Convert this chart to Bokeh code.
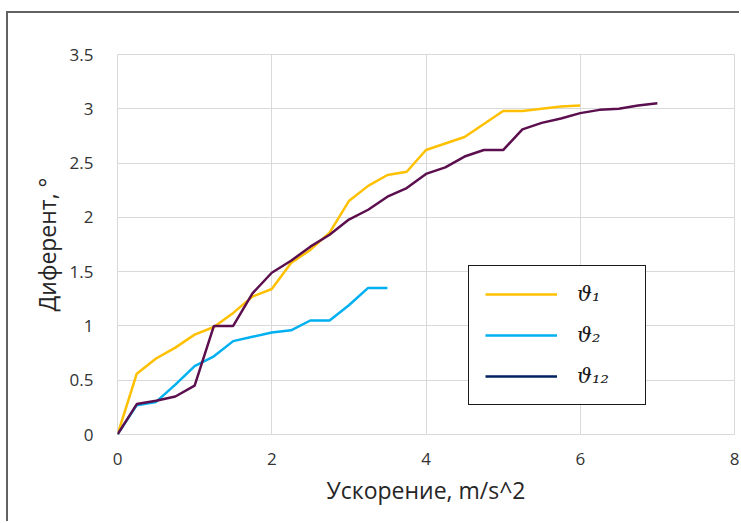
from bokeh.plotting import figure
from bokeh.models import FixedTicker, Legend, LegendItem, Range1d
from bokeh.embed import file_html
from bokeh.resources import INLINE

# ---- data ----
accel_1 = [0, 0.25, 0.5, 0.75, 1.0, 1.25, 1.5, 1.75, 2.0, 2.25, 2.5, 2.75, 3.0,
           3.25, 3.5, 3.75, 4.0, 4.25, 4.5, 4.75, 5.0, 5.25, 5.5, 5.75, 6.0]
theta_1 = [0, 0.56, 0.70, 0.80, 0.92, 0.99, 1.12, 1.27, 1.34, 1.58, 1.70, 1.86, 2.15,
           2.29, 2.39, 2.42, 2.62, 2.68, 2.74, 2.86, 2.98, 2.98, 3.00, 3.02, 3.03]

accel_2 = [0, 0.25, 0.5, 0.75, 1.0, 1.25, 1.5, 1.75, 2.0, 2.25, 2.5, 2.75, 3.0, 3.25, 3.5]
theta_2 = [0, 0.27, 0.30, 0.46, 0.63, 0.72, 0.86, 0.90, 0.94, 0.96, 1.05, 1.05, 1.19, 1.35, 1.35]

accel_12 = [0, 0.25, 0.5, 0.75, 1.0, 1.25, 1.5, 1.75, 2.0, 2.25, 2.5, 2.75, 3.0, 3.25,
            3.5, 3.75, 4.0, 4.25, 4.5, 4.75, 5.0, 5.25, 5.5, 5.75, 6.0, 6.25, 6.5, 6.75, 7.0]
theta_12 = [0, 0.28, 0.31, 0.35, 0.45, 1.00, 1.00, 1.30, 1.49, 1.60, 1.73, 1.84, 1.98, 2.07,
            2.19, 2.27, 2.40, 2.46, 2.56, 2.62, 2.62, 2.81, 2.87, 2.91, 2.96, 2.99, 3.00, 3.03, 3.05]

x_ticks = [0, 2, 4, 6, 8]
x_tick_labels = ["0", "2", "4", "6", "8"]
y_ticks = [0, 0.5, 1, 1.5, 2, 2.5, 3, 3.5]
y_tick_labels = ["0", "0.5", "1", "1.5", "2", "2.5", "3", "3.5"]

series_names = ["ϑ₁", "ϑ₂", "ϑ₁₂"]
line_colors = ["#FFC000", "#00B0F0", "#5C0F4E"]
legend_colors = ["#FFC000", "#00B0F0", "#002060"]

x_label = "Ускорение, m/s^2"
y_label = "Диферент, °"

FONT = "Open Sans"
GRID = "#d9d9d9"

p = figure(width=733, height=510, output_backend="svg", toolbar_location=None,
           x_range=Range1d(0, 8), y_range=Range1d(0, 3.5),
           min_border_left=109, min_border_right=7, min_border_top=41, min_border_bottom=89)
p.margin = (11, 0, 0, 6)
p.styles = {"border-left": "2px solid #626262", "border-top": "2px solid #626262"}

p.outline_line_color = GRID
p.background_fill_color = "white"
p.border_fill_color = "white"

for ax, ticks, labels in ((p.xaxis[0], x_ticks, x_tick_labels), (p.yaxis[0], y_ticks, y_tick_labels)):
    ax.ticker = FixedTicker(ticks=ticks)
    ax.major_label_overrides = {t: l for t, l in zip(ticks, labels)}
    ax.major_tick_line_color = None
    ax.minor_tick_line_color = None
    ax.axis_line_color = None
    ax.major_label_text_font = FONT
    ax.major_label_text_font_size = "17px"
    ax.major_label_text_color = "#333333"
    ax.axis_label_text_font = FONT
    ax.axis_label_text_font_style = "normal"
    ax.axis_label_text_font_size = "23px"
    ax.axis_label_text_color = "#262626"

p.xaxis.axis_label = x_label
p.yaxis.axis_label = y_label
p.xaxis.major_label_standoff = 12
p.yaxis.major_label_standoff = 18
p.xaxis.axis_label_standoff = 6
p.yaxis.axis_label_standoff = 4

p.xgrid.grid_line_color = GRID
p.ygrid.grid_line_color = GRID
p.xgrid.ticker = FixedTicker(ticks=x_ticks)
p.ygrid.ticker = FixedTicker(ticks=y_ticks)

xs = [accel_1, accel_2, accel_12]
ys = [theta_1, theta_2, theta_12]
renderers = []
for x, y, c in zip(xs, ys, line_colors):
    renderers.append(p.line(x, y, line_color=c, line_width=2.5))

# the reference legend shows a different (navy) swatch for the third series
legend_renderers = []
for x, y, c in zip(xs, ys, legend_colors):
    legend_renderers.append(p.line(x, y, line_color=c, line_width=2.5, visible=False))

items = [LegendItem(label=n, renderers=[r]) for n, r in zip(series_names, legend_renderers)]

legend = Legend(items=items, location=(351, 29))
legend.border_line_color = "#1a1a1a"
legend.border_line_alpha = 1
legend.border_line_width = 1.5
legend.background_fill_color = "white"
legend.background_fill_alpha = 1
legend.padding = 16
legend.spacing = 17
legend.margin = 0
legend.glyph_width = 72
legend.glyph_height = 20
legend.label_height = 20
legend.label_width = 52
legend.label_standoff = 20
legend.label_text_font = "DejaVu Serif"
legend.label_text_font_style = "italic"
legend.label_text_font_size = "21px"
legend.label_text_color = "#1a1a1a"
p.add_layout(legend, "center")

open("out.html", "w").write(file_html(p, INLINE))
